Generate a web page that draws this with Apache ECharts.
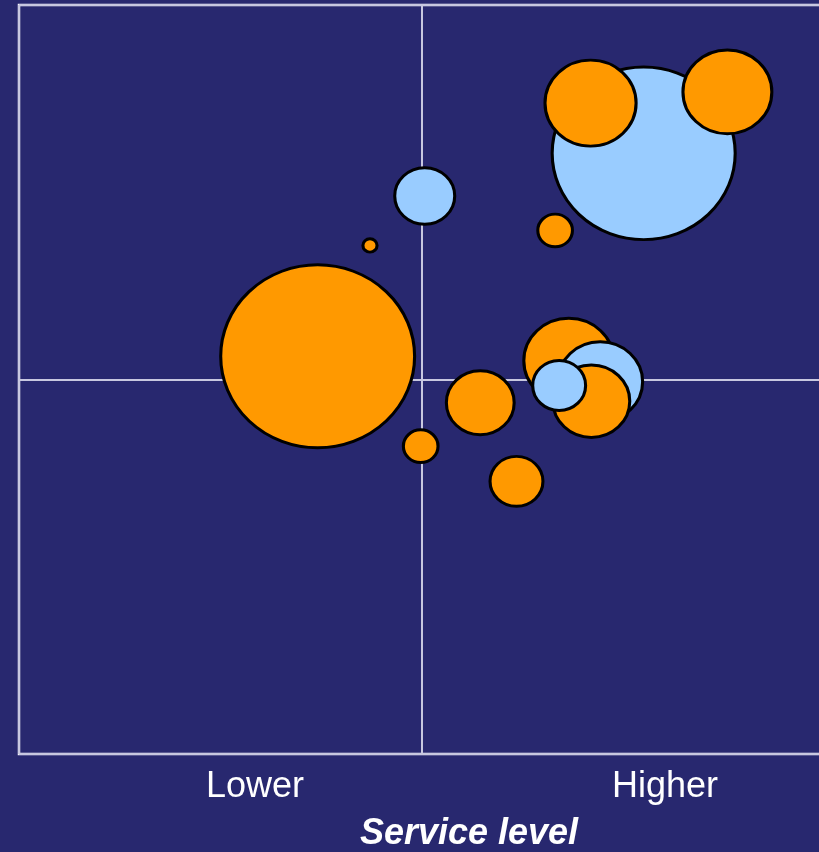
<!DOCTYPE html>
<html>
<head>
<meta charset="utf-8">
<script src="https://cdn.jsdelivr.net/npm/echarts@6/dist/echarts.min.js"></script>
<style>
  html, body { margin: 0; padding: 0; background: #28286f; }
  #chart { width: 819px; height: 852px; }
</style>
</head>
<body>
<div id="chart"></div>
<script>
// bubble data (draw order matters for overlaps)
const serviceLevel = [4.36, 5.04, 3.71, 6.66, 7.76, 7.10, 8.80, 6.83, 7.22, 7.11, 6.71, 5.73, 4.99, 6.18];
const yValue       = [6.79, 7.45, 5.31, 6.99, 8.02, 8.69, 8.84, 5.25, 4.97, 4.71, 4.92, 4.69, 4.11, 3.64];
const volume       = [2, 36, 376, 12, 335, 83, 79, 81, 72, 59, 28, 46, 12, 28];
const group        = ['A', 'B', 'A', 'A', 'B', 'A', 'A', 'A', 'B', 'A', 'B', 'A', 'A', 'A'];
const axisLabels   = ['Lower', 'Higher'];
const axisTitle    = 'Service level';

const colors = { A: '#ff9900', B: '#99ccff' };

const data = serviceLevel.map((x, i) => ({
  value: [x, yValue[i], volume[i]],
  itemStyle: { color: colors[group[i]] }
}));

const chart = echarts.init(document.getElementById('chart'));
chart.setOption({
  backgroundColor: '#28286f',
  animation: false,
  grid: {
    left: 19, top: 5, width: 805, height: 749,
    outerBoundsMode: 'none',
    show: true, borderColor: '#f4f4fa', borderWidth: 2.5, backgroundColor: 'transparent'
  },
  xAxis: {
    type: 'value', min: 0, max: 10, interval: 5,
    axisLine: { show: false }, axisTick: { show: false }, axisLabel: { show: false },
    splitLine: { show: true, lineStyle: { color: '#c8c8e0', width: 2 } }
  },
  yAxis: {
    type: 'value', min: 0, max: 10, interval: 5,
    axisLine: { show: false }, axisTick: { show: false }, axisLabel: { show: false },
    splitLine: { show: true, lineStyle: { color: '#c8c8e0', width: 2 } }
  },
  series: [{
    type: 'scatter',
    data: data,
    symbol: 'circle',
    symbolSize: v => {
      const w = Math.sqrt(v[2]) * 10;
      return [w, w / 1.06];
    },
    itemStyle: { borderColor: '#000', borderWidth: 3, opacity: 1 }
  }],
  graphic: [
    { type: 'text', x: 255, y: 787, style: { text: axisLabels[0], fill: '#fff', font: '36px "Liberation Sans", Arial, sans-serif', textAlign: 'center', textVerticalAlign: 'middle' } },
    { type: 'text', x: 665, y: 787, style: { text: axisLabels[1], fill: '#fff', font: '36px "Liberation Sans", Arial, sans-serif', textAlign: 'center', textVerticalAlign: 'middle' } },
    { type: 'text', x: 469, y: 834, style: { text: axisTitle, fill: '#fff', font: 'italic bold 36px "Liberation Sans", Arial, sans-serif', textAlign: 'center', textVerticalAlign: 'middle' } }
  ]
});
</script>
</body>
</html>
